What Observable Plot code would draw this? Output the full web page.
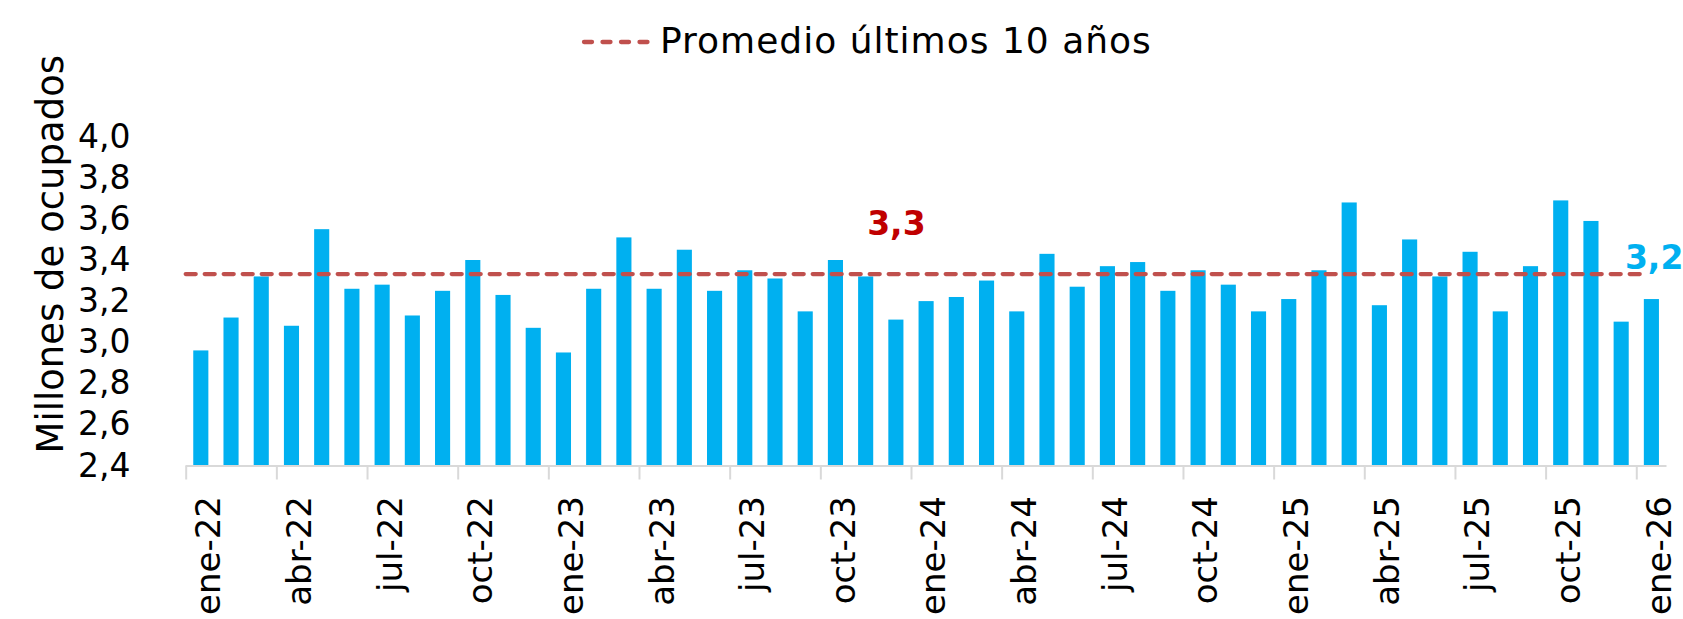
<!DOCTYPE html>
<html>
<head>
<meta charset="utf-8">
<script src="https://cdn.jsdelivr.net/npm/d3@7"></script>
<script src="https://cdn.jsdelivr.net/npm/@observablehq/plot@0.6"></script>
<style>
  html, body { margin: 0; padding: 0; background: #fff; overflow: hidden; }
  body { width: 1683px; height: 619px; font-family: "DejaVu Sans", sans-serif; }
  #legend { display: block; }
  #chart svg { display: block; overflow: visible; }
</style>
</head>
<body>
<svg id="legend" width="1683" height="80">
  <line id="legend-swatch" x1="584" x2="648" y1="42" y2="42" stroke="#C0504D" stroke-width="4.3" stroke-dasharray="8,10.5" stroke-linecap="round"></line>
  <text id="legend-text" x="660" y="53" font-family="DejaVu Sans, sans-serif" font-size="36" letter-spacing="1" fill="#000"></text>
</svg>
<div id="chart"></div>
<script>
// ---- data ----
const months = [
  "ene-22","feb-22","mar-22","abr-22","may-22","jun-22","jul-22","ago-22","sep-22","oct-22","nov-22","dic-22",
  "ene-23","feb-23","mar-23","abr-23","may-23","jun-23","jul-23","ago-23","sep-23","oct-23","nov-23","dic-23",
  "ene-24","feb-24","mar-24","abr-24","may-24","jun-24","jul-24","ago-24","sep-24","oct-24","nov-24","dic-24",
  "ene-25","feb-25","mar-25","abr-25","may-25","jun-25","jul-25","ago-25","sep-25","oct-25","nov-25","dic-25",
  "ene-26"
];
const values = [
  2.96, 3.12, 3.32, 3.08, 3.55, 3.26, 3.28, 3.13, 3.25, 3.40, 3.23, 3.07,
  2.95, 3.26, 3.51, 3.26, 3.45, 3.25, 3.35, 3.31, 3.15, 3.40, 3.32, 3.11,
  3.20, 3.22, 3.30, 3.15, 3.43, 3.27, 3.37, 3.39, 3.25, 3.35, 3.28, 3.15,
  3.21, 3.35, 3.68, 3.18, 3.50, 3.32, 3.44, 3.15, 3.37, 3.69, 3.59, 3.10,
  3.21
];
const avg10 = 3.334;
const avgLabel = "3,3";
const avgLabelMonth = "dic-23";
const lastLabel = "3,2";
const yTicks = [2.4, 2.6, 2.8, 3.0, 3.2, 3.4, 3.6, 3.8, 4.0];
const xTickLabels = ["ene-22","abr-22","jul-22","oct-22","ene-23","abr-23","jul-23","oct-23",
  "ene-24","abr-24","jul-24","oct-24","ene-25","abr-25","jul-25","oct-25","ene-26"];
const legendText = "Promedio últimos 10 años";
const axisTitle = "Millones de ocupados";

// ---- chart ----
document.getElementById("legend-text").textContent = legendText;

const W = 1683, H = 539;
const marginLeft = 185.7, marginRight = 16.5, marginTop = 56.7, marginBottom = 153.5;
const step = (W - marginLeft - marginRight) / months.length;
const data = months.map((m, i) => ({month: m, value: values[i]}));
const fmt = d => d.toFixed(1).replace(".", ",");
const lastIdx = months.length - 1;

const chart = Plot.plot({
  width: W,
  height: H,
  marginLeft, marginRight, marginTop, marginBottom,
  style: {fontFamily: '"DejaVu Sans", sans-serif', color: "#000", background: "#fff", overflow: "visible"},
  x: {domain: months, paddingInner: 0.5, paddingOuter: 0.25, align: 0.5, round: false},
  y: {domain: [yTicks[0], yTicks[yTicks.length - 1]]},
  marks: [
    Plot.barY(data, {x: "month", y1: yTicks[0], y2: "value", fill: "#00B0F0"}),
    Plot.ruleY([yTicks[0]], {stroke: "#d9d9d9", strokeWidth: 2}),
    Plot.axisX(xTickLabels, {tickSize: 14, tickFormat: () => "", dx: -step / 2, stroke: "#d9d9d9", strokeWidth: 2, strokeOpacity: 1, label: null}),
    Plot.axisX(xTickLabels, {tickSize: 0, tickPadding: 30, tickRotate: -90, fontSize: 34, dx: 8, fill: "#000", label: null}),
    Plot.axisY(yTicks, {tickSize: 0, tickPadding: 55.7, tickFormat: fmt, fontSize: 33, fill: "#000", label: null}),
    Plot.text([axisTitle], {text: d => d, frameAnchor: "left", textAnchor: "middle", rotate: -90, dx: -135.5, dy: -47.4, fontSize: 37, fill: "#000"}),
    Plot.ruleY([avg10], {stroke: "#C0504D", strokeWidth: 4.3, strokeDasharray: "10,9", strokeLinecap: "round", insetRight: 20}),
    Plot.text([{m: avgLabelMonth, v: avg10, t: avgLabel}], {x: "m", y: "v", text: "t", dy: -49.5, fill: "#C00000", fontWeight: "bold", fontSize: 33}),
    Plot.text([{m: months[lastIdx], v: values[lastIdx], t: lastLabel}], {x: "m", y: "v", text: "t", textAnchor: "start", dx: -27, dy: -41.5, fill: "#00B0F0", fontWeight: "bold", fontSize: 33})
  ]
});
document.getElementById("chart").appendChild(chart);
</script>
</body>
</html>
